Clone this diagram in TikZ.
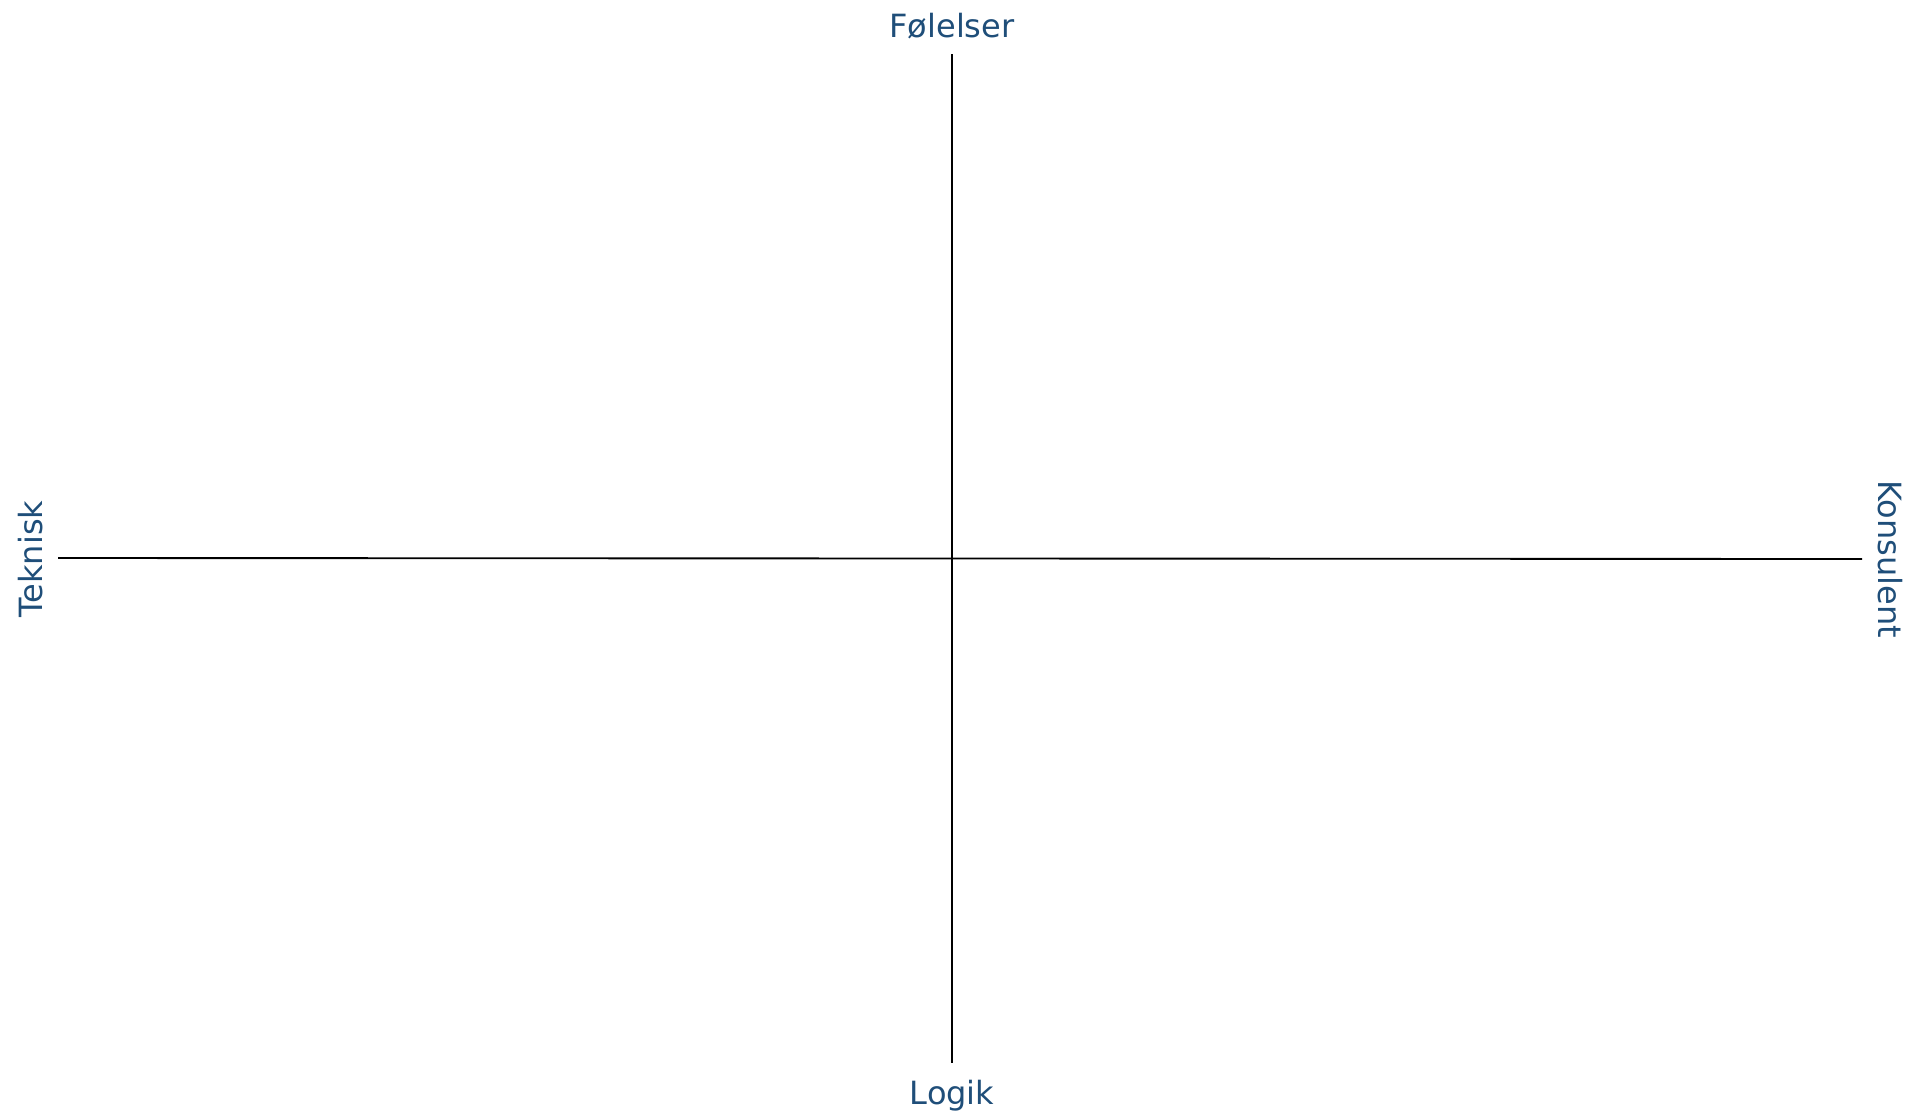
\documentclass[tikz,border=0pt]{standalone}
\usepackage{fontspec}
\setmainfont{DejaVu Sans}
\usepackage{tikz}
\usetikzlibrary{positioning}

\definecolor{axislabel}{RGB}{31,78,121}

\begin{document}
\begin{tikzpicture}[x=0.75pt,y=-0.75pt,
    every node/.style={font=\fontsize{24}{28}\selectfont, text=axislabel, inner sep=0pt},
    axisline/.style={draw=black, line width=1.4pt}]
    \useasboundingbox (0,0) rectangle (1909,1111);
    % axis ends
    \coordinate (top) at (952,54);
    \coordinate (bottom) at (952,1063);
    \coordinate (left) at (58,558);
    \coordinate (right) at (1862,559);
    \draw[axisline] (top) -- (bottom);
    \draw[axisline] (left) -- (right);
    % labels
    \node[anchor=base] (feelings) at (952,37) {Følelser};
    \node[anchor=base] (logic) at (952,1104) {Logik};
    \node[anchor=base, rotate=90] (technical) at (42,559) {Teknisk};
    \node[anchor=base, rotate=-90] (consultant) at (1878,559) {Konsulent};
  \end{tikzpicture}
\end{document}
